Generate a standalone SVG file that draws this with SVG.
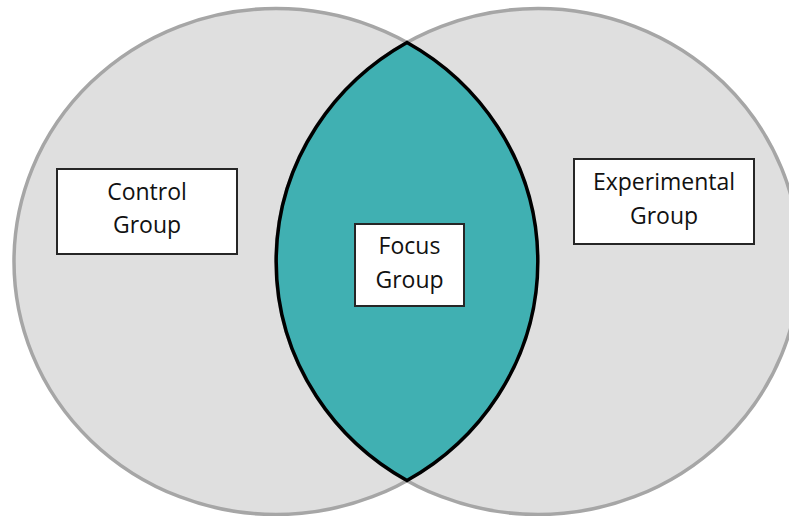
<svg xmlns="http://www.w3.org/2000/svg" width="789" height="516" viewBox="0 0 789 516">
<style>
.set{fill:#dfdfdf;stroke:#a6a6a6;stroke-width:3.5}
.lens{fill:#40b0b2;stroke:#000;stroke-width:3.5;stroke-linejoin:miter}
.box{fill:#fff;stroke:#262626;stroke-width:2}
.lbl{font-family:"Open Sans","Liberation Sans",sans-serif;font-size:23px;fill:#111;text-anchor:middle}
</style>
<rect width="789" height="516" fill="#fff"/>
<g id="left-set"><ellipse class="set" cx="276" cy="261.5" rx="262" ry="253"/></g>
<g id="right-set"><ellipse class="set" cx="538" cy="261.5" rx="262" ry="253"/></g>
<g id="intersection"><path class="lens" d="M407,42.5 A262,253 0 0,1 407,480.5 A262,253 0 0,1 407,42.5 Z"/></g>
<g id="connectors"></g>
<g id="control-group">
<rect class="box" x="57" y="169" width="180" height="85"/>
<text class="lbl" x="147" y="200">Control</text>
<text class="lbl" x="147" y="233">Group</text>
</g>
<g id="experimental-group">
<rect class="box" x="574" y="159" width="180" height="85"/>
<text class="lbl" x="664" y="190">Experimental</text>
<text class="lbl" x="664" y="224">Group</text>
</g>
<g id="focus-group">
<rect class="box" x="355" y="224" width="109" height="82"/>
<text class="lbl" x="409.5" y="254">Focus</text>
<text class="lbl" x="409.5" y="288">Group</text>
</g>
</svg>
